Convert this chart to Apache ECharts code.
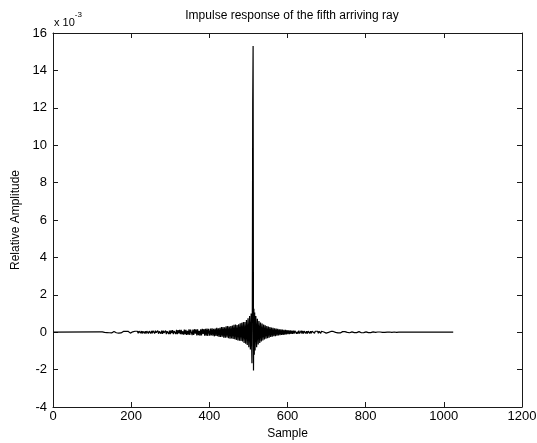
<!DOCTYPE html>
<html>
<head>
<meta charset="utf-8">
<script src="https://cdn.jsdelivr.net/npm/echarts@6/dist/echarts.min.js"></script>
<style>
html, body { margin: 0; padding: 0; background: #fff; }
#main { width: 537px; height: 443px; }
</style>
</head>
<body>
<div id="main"></div>
<script>
// amplitudes are in units of 1e-3 (see the "x 10^-3" note on the axis)
var xTicks = [0, 200, 400, 600, 800, 1000, 1200];
var yTicks = [-4, -2, 0, 2, 4, 6, 8, 10, 12, 14, 16];

// quiet tail before the arrival, samples 120..398, every 2nd sample
var tailLeftStart = 120, tailLeftStep = 2;
var tailLeft = [
    0.02,-0.03,0.01,0.02,-0.03,0.02,-0.01,-0.03,0.03,-0.02,
    0.03,0.01,-0.03,0.04,-0.02,-0.04,0.03,-0.01,0.04,-0.03,
    0.04,-0.03,-0.01,0.04,-0.05,0.03,0.01,-0.04,0.03,-0.05,
    0.04,0.02,-0.05,0.04,-0.03,-0.01,0.05,-0.04,0.02,-0.05,
    0.05,-0.05,0.02,0.06,-0.05,0.05,-0.02,-0.04,0.05,-0.06,
    0.06,-0.03,-0.05,0.06,-0.07,0.05,0.02,-0.06,0.05,-0.07,
    0.06,0.03,-0.07,0.06,-0.04,-0.07,0.07,-0.06,0.08,0.02,
    -0.07,0.08,-0.03,-0.07,0.08,-0.08,0.04,0.09,-0.08,0.08,
    -0.09,0.08,-0.04,-0.09,0.09,-0.10,0.05,0.09,-0.10,0.09,
    -0.10,0.10,-0.05,0.11,-0.10,0.06,0.11,-0.10,0.12,-0.11,
    0.11,-0.06,0.12,-0.11,0.13,-0.12,0.05,-0.13,0.14,-0.12,
    0.13,-0.14,0.07,-0.13,0.15,-0.14,0.14,0.06,-0.16,0.14,
    -0.15,0.16,-0.08,0.15,-0.17,0.16,-0.16,0.07,-0.18,0.16,
    -0.17,0.18,-0.09,0.17,-0.19,0.18,-0.18,0.19,-0.20,0.18
];

// build-up before the main peak, samples 401..507, every 2nd sample
var preBurstStart = 401, preBurstStep = 2;
var preBurst = [
    -0.18,0.20,-0.17,0.21,-0.19,0.18,-0.22,0.19,-0.20,0.23,
    -0.22,0.21,-0.26,0.24,-0.25,0.27,-0.24,0.27,-0.29,0.26,
    -0.29,0.31,-0.28,0.33,-0.32,0.30,-0.35,0.33,-0.34,0.36,
    -0.36,0.39,-0.37,0.41,-0.42,0.38,-0.44,0.43,-0.45,0.48,
    -0.47,0.51,-0.50,0.54,-0.57,0.55,-0.62,0.65,-0.69,0.74,
    -0.80,0.86,-0.92,1.00
];

// the peak itself, one value per sample
var spikeSamples = [508, 509, 510, 511, 512, 513, 514, 515, 516];
var spikeValues  = [1.10, -1.66, 1.30, 12.3, 15.3, -2.05, 1.25, -1.20, 1.05];

// decay after the peak, samples 517..619, every 2nd sample
var postBurstStart = 517, postBurstStep = 2;
var postBurst = [
    -0.98,0.86,-0.80,0.72,-0.66,0.60,-0.57,0.52,-0.49,0.46,
    -0.44,0.41,-0.39,0.37,-0.35,0.33,-0.32,0.30,-0.29,0.27,
    -0.26,0.25,-0.24,0.23,-0.22,0.21,-0.21,0.20,-0.19,0.18,
    -0.17,0.16,-0.16,0.15,-0.15,0.14,-0.14,0.13,-0.13,0.12,
    -0.12,0.11,-0.11,0.10,-0.10,0.10,-0.09,0.09,-0.09,0.08,
    -0.08,0.08
];

// quiet tail after the arrival, samples 621..899, every 2nd sample
var tailRightStart = 621, tailRightStep = 2;
var tailRight = [
    0.08,-0.08,0.03,-0.08,0.08,-0.07,-0.03,0.08,-0.07,0.07,
    -0.07,0.06,0.02,-0.07,0.06,-0.07,0.06,-0.03,-0.07,0.06,
    -0.06,0.06,-0.02,0.06,-0.06,0.05,0.02,-0.05,0.05,-0.06,
    0.05,-0.02,-0.06,0.05,-0.05,0.04,0.01,-0.05,0.04,-0.05,
    0.05,-0.04,-0.01,0.05,-0.04,0.04,-0.05,0.02,0.04,-0.04,
    0.04,-0.01,-0.03,0.04,-0.04,0.03,0.01,-0.04,0.03,-0.04,
    0.03,0.01,-0.03,0.03,-0.04,0.03,-0.01,-0.03,0.03,-0.03,
    0.03,-0.01,0.02,-0.03,0.03,-0.02,-0.01,0.03,-0.02,0.03,
    -0.02,0.03,-0.01,0.02,-0.03,0.02,0.01,-0.02,0.02,-0.02,
    0.02,-0.01,0.02,-0.02,0.01,0.01,-0.02,0.01,-0.02,0.02,
    -0.01,0.02,-0.01,0.01,-0.02,0.01,0.00,-0.01,0.01,-0.02,
    0.01,-0.01,0.00,0.01,-0.01,0.01,-0.01,0.00,0.01,-0.01,
    0.01,-0.01,0.00,-0.01,0.01,0.00,0.01,-0.01,0.00,-0.01,
    0.00,-0.01,0.00,0.00,0.01,0.00,0.00,-0.01,0.00,0.00
];

var firstSample = 1, lastSample = 1024;

// join the pieces into [sample, amplitude] pairs
var points = [[firstSample, 0]];
function addSegment(start, step, vals) {
    for (var i = 0; i < vals.length; i++) {
        points.push([start + i * step, vals[i]]);
    }
}
addSegment(tailLeftStart, tailLeftStep, tailLeft);
addSegment(preBurstStart, preBurstStep, preBurst);
for (var k = 0; k < spikeSamples.length; k++) {
    points.push([spikeSamples[k], spikeValues[k]]);
}
addSegment(postBurstStart, postBurstStep, postBurst);
addSegment(tailRightStart, tailRightStep, tailRight);
points.push([lastSample, 0]);

var font = 'Liberation Sans, Arial, Helvetica, sans-serif';
var axisColor = '#1a1a1a';

var myChart = echarts.init(document.getElementById('main'), null, { renderer: 'canvas' });

var option = {
    animation: false,
    backgroundColor: '#fff',
    title: {
        text: 'Impulse response of the fifth arriving ray',
        left: 287,
        textAlign: 'center',
        top: 5,
        textStyle: { fontFamily: font, fontSize: 12, fontWeight: 'normal', color: '#000' }
    },
    grid: {
        left: 53, right: 15, top: 33, bottom: 36,
        outerBoundsMode: 'none',
        containLabel: false
    },
    graphic: [{
        type: 'text',
        left: 54,
        top: 11,
        style: {
            text: '{a|x 10}{b|-3}',
            rich: {
                a: { fontFamily: font, fontSize: 11, color: '#000', padding: [6, 0, 0, 0] },
                b: { fontFamily: font, fontSize: 8, color: '#000', verticalAlign: 'top' }
            }
        }
    }],
    xAxis: [{
        type: 'value',
        min: xTicks[0],
        max: xTicks[xTicks.length - 1],
        interval: 200,
        name: 'Sample',
        nameLocation: 'middle',
        nameGap: 19,
        nameTextStyle: { fontFamily: font, fontSize: 12, color: '#000' },
        axisLine: { onZero: false, lineStyle: { color: axisColor, width: 1 } },
        axisTick: { inside: true, length: 5, lineStyle: { color: axisColor } },
        axisLabel: {
            fontFamily: font, fontSize: 13, color: '#000', margin: 3,
            formatter: function (v) { return String(v); }
        },
        splitLine: { show: false }
    }, {
        type: 'value',
        position: 'top',
        min: xTicks[0],
        max: xTicks[xTicks.length - 1],
        interval: 200,
        axisLine: { onZero: false, lineStyle: { color: axisColor, width: 1 } },
        axisTick: { inside: true, length: 5, lineStyle: { color: axisColor } },
        axisLabel: { show: false },
        splitLine: { show: false }
    }],
    yAxis: [{
        type: 'value',
        min: yTicks[0],
        max: yTicks[yTicks.length - 1],
        interval: 2,
        name: 'Relative Amplitude',
        nameLocation: 'middle',
        nameGap: 28,
        nameTextStyle: { fontFamily: font, fontSize: 12, color: '#000' },
        axisLine: { show: true, onZero: false, lineStyle: { color: axisColor, width: 1 } },
        axisTick: { show: true, inside: true, length: 5, lineStyle: { color: axisColor } },
        axisLabel: { fontFamily: font, fontSize: 13, color: '#000', margin: 6 },
        splitLine: { show: false }
    }, {
        type: 'value',
        position: 'right',
        min: yTicks[0],
        max: yTicks[yTicks.length - 1],
        interval: 2,
        axisLine: { show: true, onZero: false, lineStyle: { color: axisColor, width: 1 } },
        axisTick: { show: true, inside: true, length: 5, lineStyle: { color: axisColor } },
        axisLabel: { show: false },
        splitLine: { show: false }
    }],
    series: [{
        name: 'impulse',
        type: 'line',
        xAxisIndex: 0,
        yAxisIndex: 0,
        data: points,
        showSymbol: false,
        symbol: 'none',
        sampling: null,
        lineStyle: { color: '#000', width: 1.2 },
        emphasis: { disabled: true }
    }]
};

myChart.setOption(option);
</script>
</body>
</html>
